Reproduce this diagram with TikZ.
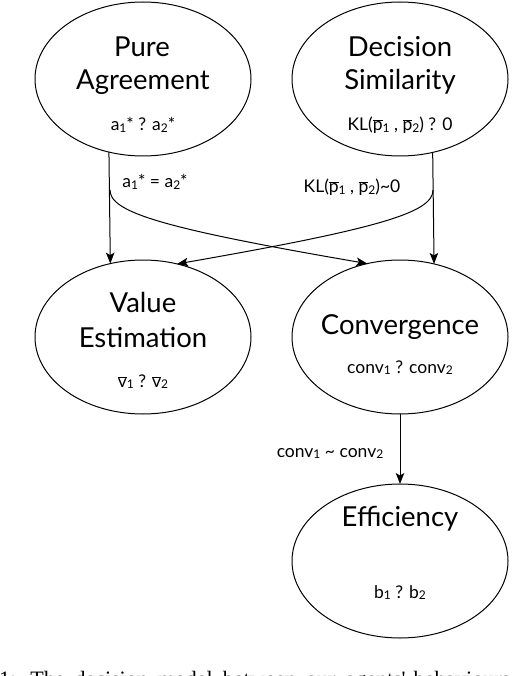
\documentclass[tikz,border=0pt]{standalone}
\usepackage{fontspec}
\setmainfont{Lato}
\newfontfamily\capfont{Liberation Serif}
\usetikzlibrary{shapes.geometric,arrows.meta}
\newcommand\sbs[1]{\raisebox{-0.22ex}{\fontsize{12}{12}\selectfont #1}}
\newcommand\ovl[1]{\ensuremath{\overline{\mbox{#1}}}}
\begin{document}
\begin{tikzpicture}[x=1pt,y=-1pt,
  ell/.style={draw,ellipse,line width=1pt,minimum width=216pt,minimum height=154pt,inner sep=0pt,outer sep=0pt},
  big/.style={anchor=base,inner sep=0pt,font=\fontsize{27.5}{30}\selectfont},
  small/.style={anchor=base,inner sep=0pt,font=\fontsize{17.5}{19}\selectfont},
  arr/.style={line width=1pt,-{Stealth[length=11pt,width=8.5pt,inset=2.5pt]}}]
\useasboundingbox (0,0) rectangle (512,676);
% ellipses
\node[ell] (pa) at (143,79) {};
\node[ell] (ds) at (400,79) {};
\node[ell] (ve) at (143,337) {};
\node[ell] (cv) at (400,337) {};
\node[ell] (ef) at (400,561) {};
% texts
\node[big] (pa1) at (142,57) {Pure};
\node[big] (pa2) at (143,90) {Agreement};
\node[small] (pa3) at (143,131) {a\sbs{1}* ? a\sbs{2}*};
\node[big] (ds1) at (400,57) {Decision};
\node[big] (ds2) at (400,90) {Similarity};
\node[small] (ds3) at (400,131) {KL(\ovl{p}\sbs{1} , \ovl{p}\sbs{2}) ? 0};
\node[big] (ve1) at (143,312) {Value};
\node[big] (ve2) at (143,347) {Estimation};
\node[small] (ve3) at (143,387) {\ovl{v}\sbs{1} ? \ovl{v}\sbs{2}};
\node[big] (cv1) at (400,334) {Convergence};
\node[small] (cv2) at (400,373) {conv\sbs{1} ? conv\sbs{2}};
\node[big] (ef1) at (400,526) {Efficiency};
\node[small] (ef2) at (400,598) {b\sbs{1} ? b\sbs{2}};
% edge labels
\node[small] (l1) at (155,188) {a\sbs{1}* = a\sbs{2}*};
\node[small] (l2) at (352,193) {KL(\ovl{p}\sbs{1} , \ovl{p}\sbs{2})\textasciitilde 0};
\node[small] (l3) at (330,457) {conv\sbs{1} \textasciitilde\ conv\sbs{2}};
% connectors
\coordinate (bl) at (110,190);
\coordinate (br) at (433,190);
\draw[arr] (pa.245.7) -- (ve.114.3);
\draw[arr] (ds.294.3) -- (cv.65.7);
\draw[arr] (bl) .. controls (110,212) and (160,228) .. (cv.114.3);
\draw[arr] (br) .. controls (433,212) and (383,228) .. (ve.65.7);
\draw[arr] (cv.south) -- (ef.north);
% cut-off caption
\begin{scope}
\clip (0,0) rectangle (512,676);
\node[anchor=base west,inner sep=0pt,font=\capfont\fontsize{22}{24}\selectfont] (cap) at (-1,686) {1:\hspace{14pt}The\hspace{10pt}decision\hspace{10pt}model\hspace{10pt}between\hspace{10pt}our\hspace{10pt}agents'\hspace{8pt}behaviours};
\end{scope}
\end{tikzpicture}
\end{document}
